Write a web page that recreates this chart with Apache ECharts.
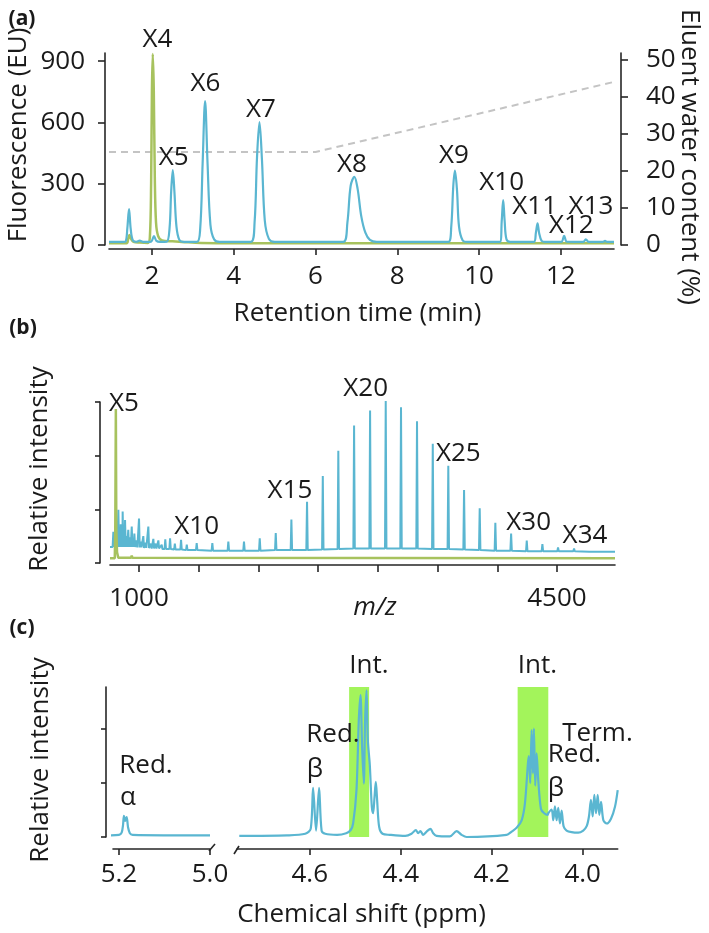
<!DOCTYPE html>
<html><head><meta charset="utf-8">
<script src="https://cdn.jsdelivr.net/npm/echarts@6/dist/echarts.min.js"></script>
<style>html,body{margin:0;padding:0;background:#fff}#c{width:709px;height:933px}</style>
</head><body><div id="c"></div>
<script>
// ---------- (a) HPLC chromatogram: [time (min), fluorescence (EU)] ----------
const hplcBlue = [
  [0.95,15],[1.30,15],[1.36,18],[1.40,85],[1.44,176],[1.48,80],[1.53,24],[1.62,16],[1.70,21],[1.78,15],[1.95,15],[2.00,22],[2.05,44],[2.11,20],[2.20,15],
  [2.36,16],[2.43,80],[2.47,260],[2.51,367],[2.55,260],[2.60,90],[2.67,25],[2.78,15],
  [3.10,15],[3.18,80],[3.24,400],[3.30,705],[3.36,400],[3.43,100],[3.52,28],[3.65,15],
  [4.42,15],[4.51,110],[4.57,430],[4.63,602],[4.69,420],[4.76,120],[4.86,30],[5.00,15],
  [6.68,15],[6.78,110],[6.86,290],[6.95,334],[7.03,275],[7.12,140],[7.22,60],[7.33,25],[7.50,15],
  [9.25,15],[9.32,90],[9.37,290],[9.41,364],[9.46,270],[9.51,90],[9.60,22],[9.72,15],
  [10.51,15],[10.555,120],[10.59,220],[10.625,120],[10.67,28],[10.76,15],
  [11.34,15],[11.39,60],[11.43,106],[11.47,58],[11.53,20],[11.62,15],
  [12.01,15],[12.08,45],[12.15,16],
  [12.55,15],[12.61,28],[12.68,15],
  [13.03,15],[13.08,20],[13.13,15],[13.30,15]
];
const hplcGreen = [
  [0.95,8],[1.38,8],[1.42,30],[1.45,49],[1.49,30],[1.55,16],[1.70,12],[1.90,10],[1.95,40],[1.98,300],[2.00,760],[2.02,935],[2.045,760],
  [2.07,330],[2.10,110],[2.15,45],[2.25,22],[2.50,18],[2.80,14],[3.20,10],[4.00,8],[13.30,8]
];
// eluent water content (%) gradient
const gradient = [[0.95,25.1],[6.0,25.1],[13.3,44.0]];
const hplcLabels = ['X4','X5','X6','X7','X8','X9','X10','X11','X12','X13'];

// ---------- (b) MALDI MS: [m/z, relative intensity, local baseline] ----------
const msBlue = [
  [785,0.58,0.30],[800,0.45,0.30],[812,0.50,0.30],[827,0.99,0.30],[838,0.55,0.30],[847,0.72,0.30],[855,0.50,0.30],[863,0.96,0.30],
  [873,0.55,0.30],[883,0.80,0.30],[895,0.50,0.30],[910,0.62,0.30],[925,0.48,0.30],[939,0.68,0.30],[950,0.45,0.30],[961,0.55,0.30],
  [980,0.42,0.29],[1000,0.83,0.29],[1015,0.40,0.29],[1036,0.50,0.28],[1055,0.38,0.28],[1078,0.68,0.28],[1100,0.36,0.27],[1120,0.45,0.27],
  [1140,0.36,0.27],[1162,0.42,0.27],[1190,0.34,0.26],[1220,0.44,0.26],[1260,0.46,0.26],[1300,0.36,0.25],[1352,0.43,0.25],[1400,0.34,0.24],
  [1483,0.37,0.24],[1614,0.37,0.23],[1748,0.40,0.23],[1879,0.40,0.23],[2011,0.46,0.23],[2145,0.56,0.24],[2276,0.81,0.24],[2407,1.14,0.24],
  [2539,1.62,0.25],[2669,2.09,0.26],[2801,2.56,0.27],[2935,2.84,0.27],[3066,3.02,0.27],[3194,2.90,0.27],[3328,2.64,0.27],[3460,2.22,0.26],
  [3590,1.81,0.26],[3722,1.36,0.25],[3853,1.02,0.24],[3984,0.75,0.23],[4116,0.55,0.23],[4247,0.42,0.22],[4378,0.35,0.22],[4509,0.29,0.22],
  [4643,0.27,0.22],[4777,0.24,0.21],[4909,0.23,0.21]
];
const msBlueEnds = [[757,0.30],[4986,0.21]];
const msGreen = [[757,0.09],[797,0.09],[801,0.6],[806,2.87],[810,0.6],[816,0.2],[826,0.1],[934,0.1],[939,0.14],[944,0.1],[4986,0.09]];
const msLabels = ['X5','X10','X15','X20','X25','X30','X34'];

// ---------- (c) 1H NMR: [ppm, relative intensity] ----------
const nmrLeft = [[5.228,0.03],[5.200,0.04],[5.194,0.08],[5.191,0.22],[5.189,0.39],[5.186,0.30],[5.183,0.37],[5.180,0.18],[5.176,0.07],[5.170,0.04],[5.000,0.03]];
const nmrRight = [
  [4.755,0.02],[4.650,0.03],[4.610,0.06],[4.598,0.15],[4.5927,0.91],[4.5862,0.12],[4.5795,0.91],[4.574,0.12],[4.566,0.06],[4.540,0.04],
  [4.520,0.07],[4.510,0.13],[4.5047,0.25],[4.4973,0.87],[4.4922,2.17],[4.4885,2.63],[4.4849,1.67],[4.4812,0.99],[4.4783,2.17],[4.4752,2.72],
  [4.4724,1.80],[4.468,1.33],[4.4636,0.56],[4.4607,0.44],[4.4576,0.75],[4.4548,1.02],[4.4519,0.68],[4.4475,0.19],[4.440,0.06],[4.424,0.04],
  [4.390,0.02],[4.3763,0.06],[4.3668,0.13],[4.3617,0.07],[4.3565,0.11],[4.3507,0.04],[4.342,0.11],[4.3345,0.15],[4.3287,0.07],[4.3213,0.02],
  [4.292,0.01],[4.2772,0.11],[4.2662,0.04],[4.2552,0.00],[4.1672,0.04],[4.1562,0.10],[4.1452,0.17],[4.1342,0.31],[4.127,0.62],[4.1182,1.50],
  [4.1153,1.00],[4.1123,1.98],[4.1094,1.18],[4.1072,2.01],[4.1043,0.95],[4.1013,1.55],[4.0977,1.06],[4.0917,0.52],[4.0845,0.44],[4.077,0.41],
  [4.0757,0.44],[4.0683,0.51],[4.0646,0.31],[4.061,0.57],[4.0573,0.31],[4.0537,0.54],[4.050,0.25],[4.0463,0.49],[4.042,0.20],[4.0354,0.12],
  [4.0244,0.09],[4.0098,0.08],[3.9988,0.12],[3.9912,0.20],[3.9862,0.38],[3.9818,0.69],[3.978,0.38],[3.9744,0.78],[3.9707,0.44],[3.967,0.78],
  [3.9634,0.41],[3.9597,0.65],[3.9545,0.31],[3.9472,0.25],[3.9377,0.34],[3.929,0.56],[3.923,0.87]
];
const nmrBoxes = [[4.5135,4.4695],[4.143,4.0756]];
const nmrLabels = ['Red.','α','Red.','β','Int.','Int.','Term.','Red.','β'];

// tick values
const hplcTimeTicks = [2,4,6,8,10,12];
const hplcFluoTicks = [0,300,600,900];
const waterTicks = [0,10,20,30,40,50];
const mzTicks = [1000,1500,2000,2500,3000,3500,4000,4500];
const mzLabels = [1000,4500];
const riTicksB = [0,1,2,3];
const ppmLeftTicks = [5.0,5.2];
const ppmRightTicks = [4.0,4.2,4.4,4.6];
const riTicksC = [0,1,2];

// ---------- styles / layout ----------
const FONT = '"Open Sans","Noto Sans",sans-serif';
const FS = 26;
const BLUE = '#5ab6d1', GREEN = '#a7c25e', BOX = '#a3f45b', GRAY = '#c4c4c4', INK = '#1a1a1a', AX = '#262626';

const chart = echarts.init(document.getElementById('c'));

function ax(extra) {
  const base = {
    type: 'value', splitLine: {show: false},
    axisLine: {show: true, onZero: false, lineStyle: {color: AX, width: 1.6}},
    axisTick: {show: true, length: 6, lineStyle: {color: AX, width: 1.6}},
    axisLabel: {color: INK, fontSize: FS, fontFamily: FONT, formatter: v => String(v)}
  };
  const o = Object.assign({}, base, extra);
  o.axisTick = Object.assign({}, base.axisTick, extra.axisTick || {});
  o.axisLabel = Object.assign({}, base.axisLabel, extra.axisLabel || {});
  return o;
}

const msSeriesData = [msBlueEnds[0]];
msBlue.forEach(p => { msSeriesData.push([p[0]-6, p[2]], [p[0], p[1]], [p[0]+6, p[2]]); });
msSeriesData.push(msBlueEnds[1]);

function txt(t, x, y, opt) {
  opt = opt || {};
  return {type: 'text', x: x, y: y, rotation: opt.rot || 0, z: 100,
    style: {text: t, fill: INK, font: (opt.font || (FS + 'px ' + FONT)), align: 'center', verticalAlign: 'middle'}};
}
const BOLD = 'bold 21px ' + FONT;
const hplcLabelPos = [[157.5,40],[173.7,158],[205.5,84],[261,110],[352,165],[454,156],[501.7,182.5],[534.7,206.7],[571.3,225.8],[591,206.7]];
const msLabelPos = [[124,404],[196.7,526.7],[290,491],[365.7,389],[458.3,454],[528.7,522.5],[585,536]];
const nmrLabelPos = [[146,766],[128,798],[333,735],[315,770],[369,666],[537.5,666],[597.5,733.5],[574.5,755],[556,789]];

const graphics = [
  txt('(a)', 22, 19, {font: BOLD}), txt('(b)', 23, 328, {font: BOLD}), txt('(c)', 22, 628, {font: BOLD}),
  txt('Fluorescence (EU)', 19, 135, {rot: Math.PI/2}),
  txt('Eluent water content (%)', 689, 157, {rot: -Math.PI/2}),
  txt('Retention time (min)', 357.5, 314),
  txt('Relative intensity', 40, 469, {rot: Math.PI/2}),
  txt('m/z', 375, 608, {font: 'italic ' + FS + 'px ' + FONT}),
  txt('Relative intensity', 41, 760, {rot: Math.PI/2}),
  txt('Chemical shift (ppm)', 361.5, 915)
];
hplcLabels.forEach((t,i) => graphics.push(txt(t, hplcLabelPos[i][0], hplcLabelPos[i][1])));
msLabels.forEach((t,i) => graphics.push(txt(t, msLabelPos[i][0], msLabelPos[i][1])));
nmrLabels.forEach((t,i) => graphics.push(txt(t, nmrLabelPos[i][0], nmrLabelPos[i][1])));

const option = {
  animation: false,
  backgroundColor: '#fff',
  grid: [
    {left: 109, top: 53, width: 505, height: 192},
    {left: 110, top: 402, width: 505, height: 161},
    {left: 113, top: 687, width: 97, height: 150},
    {left: 237, top: 687, width: 380.7, height: 150}
  ],
  xAxis: [
    ax({gridIndex: 0, min: 0.95, max: 13.3, offset: 4, axisTick: {customValues: hplcTimeTicks}, axisLabel: {customValues: hplcTimeTicks, margin: 15}}),
    ax({gridIndex: 1, min: 757, max: 4986, offset: 2, axisTick: {customValues: mzTicks, length: 7}, axisLabel: {customValues: mzLabels, margin: 21}}),
    ax({gridIndex: 2, min: 5.0, max: 5.213, inverse: true, offset: 12, axisTick: {customValues: ppmLeftTicks}, axisLabel: {customValues: ppmLeftTicks, margin: 13, formatter: v => v.toFixed(1)}}),
    ax({gridIndex: 3, min: 3.923, max: 4.76, inverse: true, offset: 12, axisTick: {customValues: ppmRightTicks}, axisLabel: {customValues: ppmRightTicks, margin: 13, formatter: v => v.toFixed(1)}})
  ],
  yAxis: [
    ax({gridIndex: 0, min: 0, max: 940, offset: 4, axisTick: {customValues: hplcFluoTicks, length: 7}, axisLabel: {customValues: hplcFluoTicks, margin: 20}}),
    ax({gridIndex: 0, position: 'right', min: 0, max: 51.8, offset: 7, axisTick: {customValues: waterTicks, length: 7}, axisLabel: {customValues: waterTicks, margin: 25}}),
    ax({gridIndex: 1, min: 0, max: 3, offset: 10, axisTick: {customValues: riTicksB, length: 5}, axisLabel: {show: false}}),
    ax({gridIndex: 2, min: 0, max: 2.78, offset: 7, axisTick: {customValues: riTicksC, length: 5}, axisLabel: {show: false}}),
    {type: 'value', gridIndex: 3, min: 0, max: 2.78, show: false}
  ],
  series: [
    {type: 'line', xAxisIndex: 0, yAxisIndex: 1, data: gradient, symbol: 'none', silent: true, z: 1,
     lineStyle: {color: GRAY, width: 2, type: [7, 5]}},
    {type: 'line', xAxisIndex: 0, yAxisIndex: 0, data: hplcGreen, symbol: 'none', smooth: 0.35, z: 2,
     lineStyle: {color: GREEN, width: 2.5}},
    {type: 'line', xAxisIndex: 0, yAxisIndex: 0, data: hplcBlue, symbol: 'none', smooth: 0.35, z: 3,
     lineStyle: {color: BLUE, width: 2.2}},
    {type: 'line', xAxisIndex: 1, yAxisIndex: 2, data: msSeriesData, symbol: 'none', z: 2,
     lineStyle: {color: BLUE, width: 2}},
    {type: 'line', xAxisIndex: 1, yAxisIndex: 2, data: msGreen, symbol: 'none', z: 3,
     lineStyle: {color: GREEN, width: 2.5}},
    {type: 'line', xAxisIndex: 2, yAxisIndex: 3, data: nmrLeft, symbol: 'none', smooth: 0.3, clip: false, z: 3,
     lineStyle: {color: BLUE, width: 2.2}},
    {type: 'line', xAxisIndex: 3, yAxisIndex: 4, data: [], symbol: 'none', z: 1,
     markArea: {silent: true, itemStyle: {color: BOX, opacity: 1},
       data: nmrBoxes.map(b => [{xAxis: b[0], yAxis: 0}, {xAxis: b[1], yAxis: 2.78}])}},
    {type: 'line', xAxisIndex: 3, yAxisIndex: 4, data: nmrRight, symbol: 'none', smooth: 0.3, clip: false, z: 3,
     lineStyle: {color: BLUE, width: 2.2}}
  ],
  graphic: graphics
};
chart.setOption(option);

// axis-break marks placed through the axes' own scales
const bx1 = chart.convertToPixel({xAxisIndex: 2}, 5.0);
const bx2 = chart.convertToPixel({xAxisIndex: 3}, 4.76);
const by = chart.convertToPixel({yAxisIndex: 3}, 0) + 12;
chart.setOption({graphic: graphics.concat([
  {type: 'line', z: 100, shape: {x1: bx1 - 1, y1: by + 2, x2: bx1 + 5, y2: by - 5}, style: {stroke: AX, lineWidth: 1.6}},
  {type: 'line', z: 100, shape: {x1: bx2 - 3, y1: by + 5, x2: bx2 + 2, y2: by - 3}, style: {stroke: AX, lineWidth: 1.6}}
])});
</script></body></html>
